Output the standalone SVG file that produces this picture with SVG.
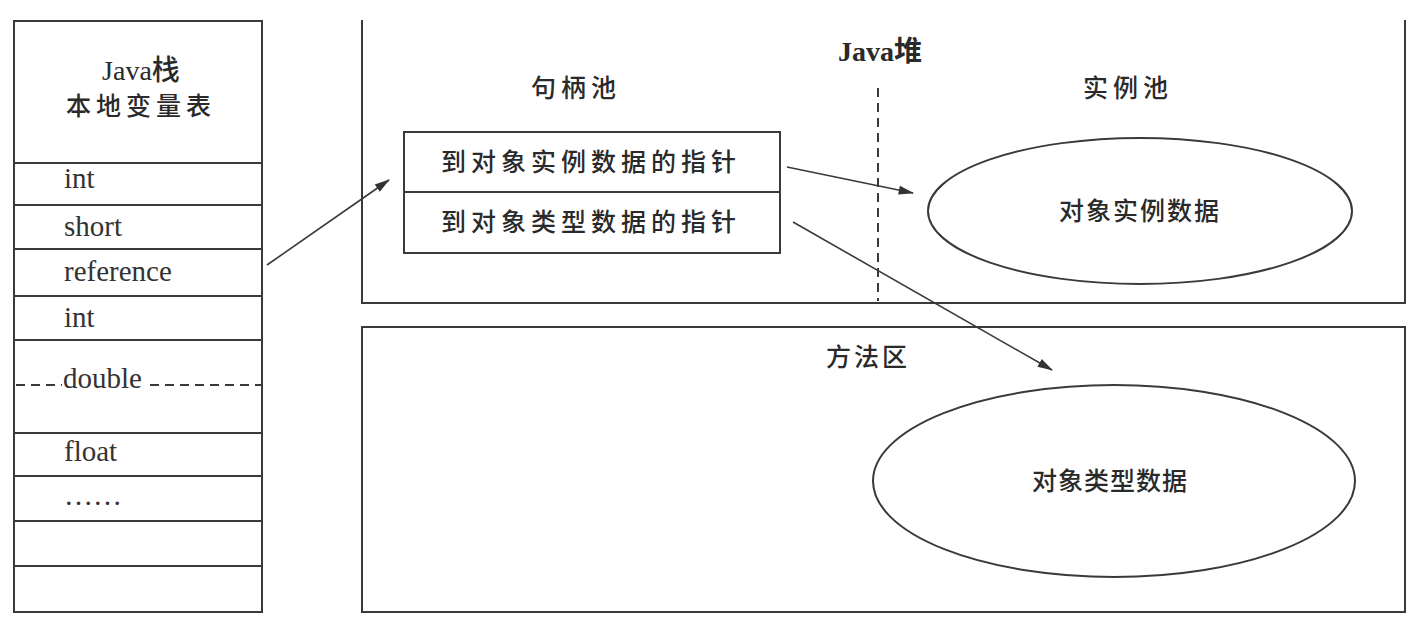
<svg xmlns="http://www.w3.org/2000/svg" width="1413" height="625" viewBox="0 0 1413 625">
<style>
.ln{fill:none;stroke:#3a3a3a;stroke-width:2}
.dash{fill:none;stroke:#3a3a3a;stroke-width:2;stroke-dasharray:9 6}
.en{font-family:"Liberation Serif",serif;font-size:29px;fill:#333}
.cn{font-family:"Liberation Serif","Noto Sans CJK SC",serif;font-size:25px;fill:#2a2a2a;font-weight:500}
.jv{font-family:"Liberation Serif","Noto Sans CJK SC",serif;font-size:28px;fill:#2a2a2a;font-weight:bold}
.ar{fill:none;stroke:#3a3a3a;stroke-width:1.6}
</style>
<defs>
<marker id="ahL" viewBox="0 0 14 10" refX="13" refY="5" markerWidth="16" markerHeight="11" markerUnits="userSpaceOnUse" orient="auto">
<path d="M0,1 L14,5 L0,9 Z" fill="#333"/>
</marker>
</defs>
<rect width="1413" height="625" fill="#fff"/>

<g id="java-stack">
<rect class="ln" x="14" y="21" width="248" height="591"/>
<line class="ln" x1="14" y1="163" x2="262" y2="163"/>
<line class="ln" x1="14" y1="205" x2="262" y2="205"/>
<line class="ln" x1="14" y1="249" x2="262" y2="249"/>
<line class="ln" x1="14" y1="296" x2="262" y2="296"/>
<line class="ln" x1="14" y1="340" x2="262" y2="340"/>
<line class="ln" x1="14" y1="433" x2="262" y2="433"/>
<line class="ln" x1="14" y1="476" x2="262" y2="476"/>
<line class="ln" x1="14" y1="521" x2="262" y2="521"/>
<line class="ln" x1="14" y1="566" x2="262" y2="566"/>
<line class="dash" x1="16" y1="385" x2="62" y2="385"/>
<line class="dash" x1="150" y1="385" x2="262" y2="385"/>
<text class="jv" x="141" y="80" text-anchor="middle" style="font-weight:500">Java栈</text>
<text class="cn" x="141" y="115" text-anchor="middle" letter-spacing="5" font-size="27">本地变量表</text>
<text class="en" x="64" y="188">int</text>
<text class="en" x="64" y="236">short</text>
<text class="en" x="64" y="281">reference</text>
<text class="en" x="64" y="327">int</text>
<text class="en" x="63" y="388">double</text>
<text class="en" x="64" y="461">float</text>
<text class="en" x="64" y="505">……</text>
</g>

<g id="java-heap">
<path class="ln" d="M362,20 L362,303 L1405,303 L1405,20"/>
<text class="jv" x="880" y="61" text-anchor="middle">Java堆</text>
<text class="cn" x="576" y="97" text-anchor="middle" letter-spacing="5" font-size="26">句柄池</text>
<text class="cn" x="1128" y="97" text-anchor="middle" letter-spacing="5" font-size="26">实例池</text>
<line class="dash" x1="878" y1="88" x2="878" y2="301"/>
</g>

<g id="handle">
<rect class="ln" x="404" y="132" width="376" height="121"/>
<line class="ln" x1="404" y1="192" x2="780" y2="192"/>
<text class="cn" x="591" y="171" text-anchor="middle" letter-spacing="5">到对象实例数据的指针</text>
<text class="cn" x="591" y="231" text-anchor="middle" letter-spacing="5">到对象类型数据的指针</text>
</g>

<g id="instance-data">
<ellipse class="ln" cx="1140" cy="211" rx="212" ry="73"/>
<text class="cn" x="1140" y="220" text-anchor="middle" letter-spacing="2">对象实例数据</text>
</g>

<g id="method-area">
<rect class="ln" x="362" y="327" width="1043" height="285"/>
<text class="cn" x="868" y="366" text-anchor="middle" letter-spacing="3">方法区</text>
</g>

<g id="type-data">
<ellipse class="ln" cx="1114" cy="481" rx="241" ry="96"/>
<text class="cn" x="1110" y="490" text-anchor="middle" letter-spacing="1">对象类型数据</text>
</g>

<g id="connectors">
<line class="ar" x1="267" y1="265" x2="389" y2="180" marker-end="url(#ahL)"/>
<line class="ar" x1="787" y1="167" x2="913" y2="193" marker-end="url(#ahL)"/>
<line class="ar" x1="793" y1="222" x2="1052" y2="370" marker-end="url(#ahL)"/>
</g>
</svg>
